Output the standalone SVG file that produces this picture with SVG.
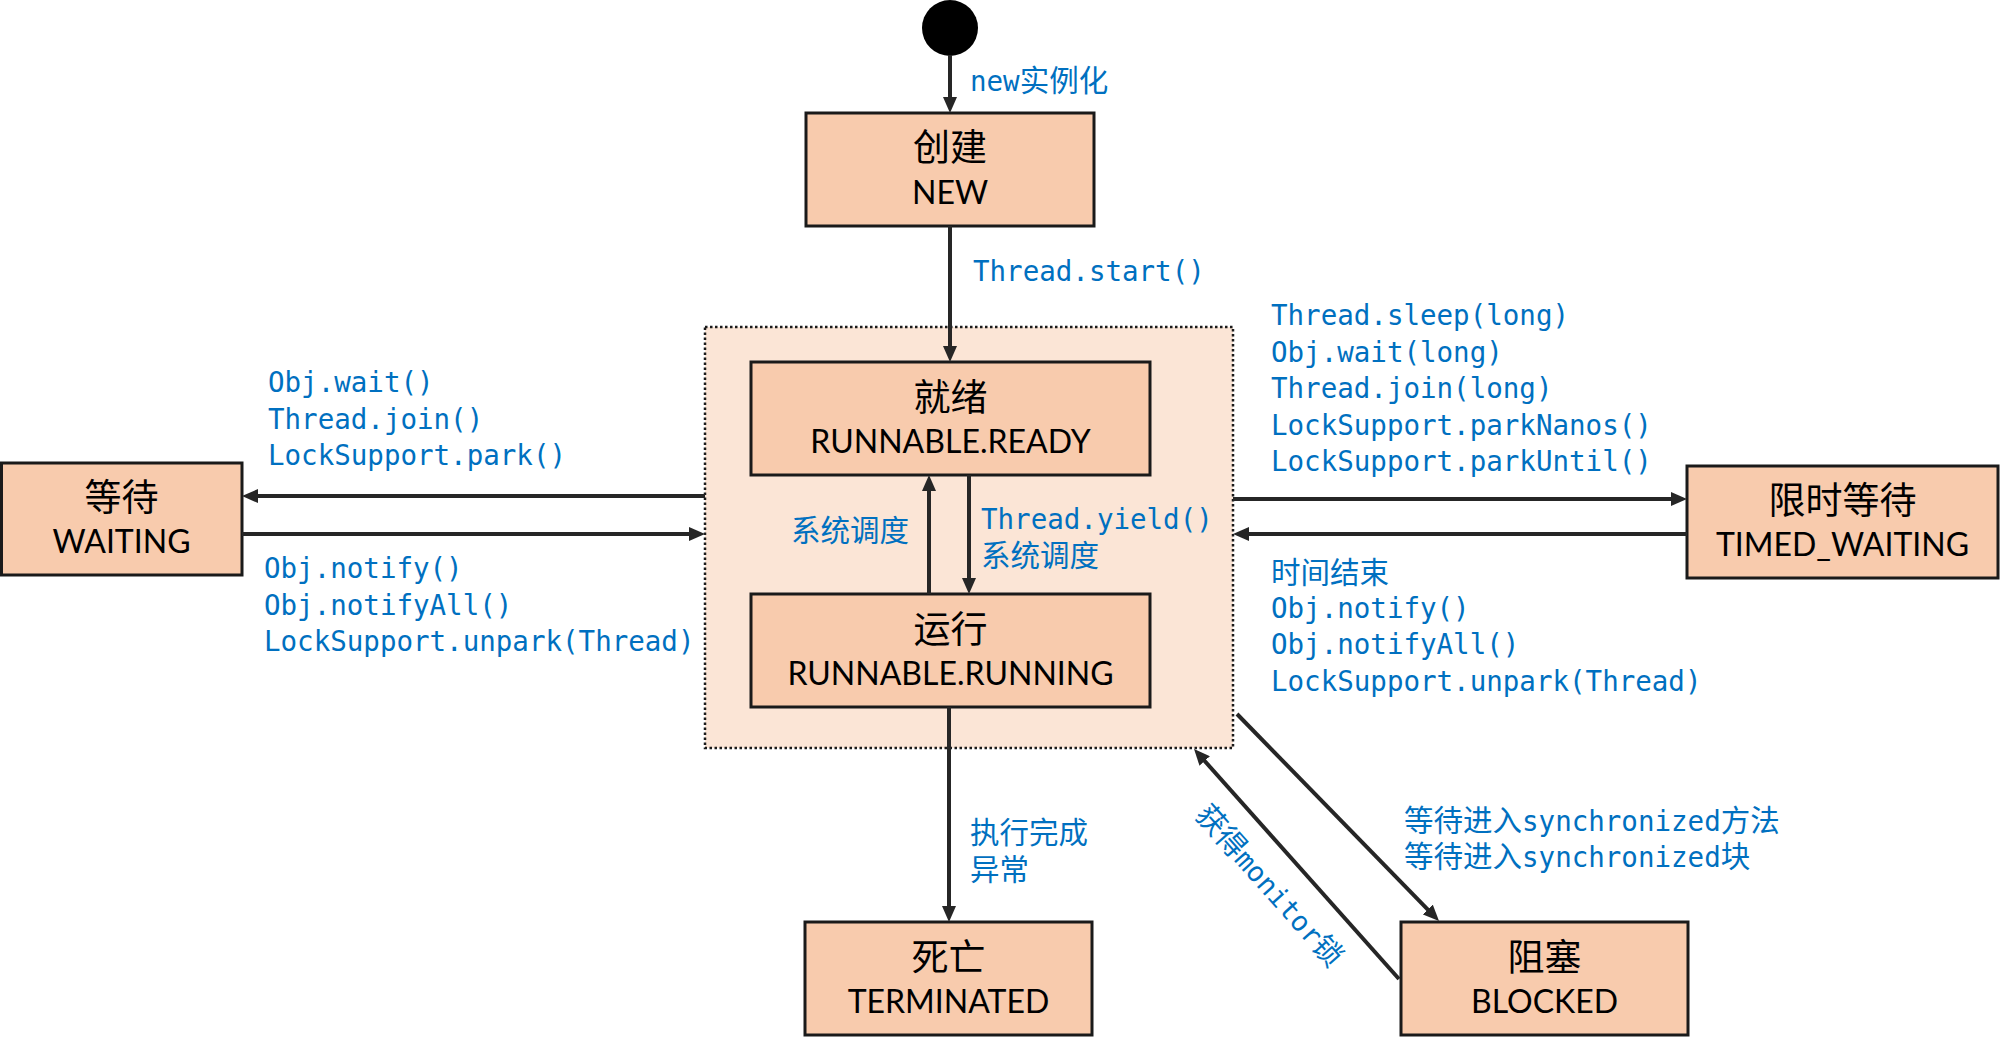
<svg xmlns="http://www.w3.org/2000/svg" width="2000" height="1047" viewBox="0 0 2000 1047">
<defs>
<style>
.box{fill:#F8CBAD;stroke:#1a1a1a;stroke-width:3}
.cn{font-family:"Noto Sans CJK SC",sans-serif;font-size:37px;fill:#000;text-anchor:middle}
.en{font-family:Lato,"Liberation Sans","Noto Sans CJK SC",sans-serif;font-size:32px;fill:#000;text-anchor:middle}
.lbl{font-family:"DejaVu Sans Mono","Liberation Mono","Noto Sans CJK SC",monospace;font-size:27.5px;fill:#0070C0}
.lcn{font-family:"Noto Sans CJK SC",sans-serif;font-size:29.5px;fill:#0070C0}
.cj{font-family:"Noto Sans CJK SC",sans-serif;font-size:29.5px}
.conn line{stroke:#262626;stroke-width:4;marker-end:url(#arr)}
</style>
<marker id="arr" markerUnits="userSpaceOnUse" markerWidth="16" markerHeight="14" viewBox="0 0 16 14" refX="6" refY="7" orient="auto">
<path d="M0,0 L16,7 L0,14 z" fill="#262626"/>
</marker>
</defs>
<rect width="2000" height="1047" fill="#fff"/>

<g id="runnable-container">
<rect x="705" y="327" width="528" height="421" fill="#FBE5D6" stroke="#1a1a1a" stroke-width="2.5" stroke-dasharray="2.5 2.5"/>
</g>

<g id="start">
<circle cx="950" cy="28" r="28" fill="#000"/>
</g>

<g id="new">
<rect class="box" x="806" y="113" width="288" height="113"/>
<text class="cn" x="950" y="161">创建</text>
<text class="en" x="950" y="204">NEW</text>
</g>

<g id="ready">
<rect class="box" x="751" y="362" width="399" height="113"/>
<text class="cn" x="950.5" y="411">就绪</text>
<text class="en" x="950.5" y="453">RUNNABLE.READY</text>
</g>

<g id="running">
<rect class="box" x="751" y="594" width="399" height="113"/>
<text class="cn" x="950.5" y="643">运行</text>
<text class="en" x="950.5" y="685">RUNNABLE.RUNNING</text>
</g>

<g id="waiting">
<rect class="box" x="1.5" y="463" width="240.5" height="112"/>
<text class="cn" x="121.5" y="511">等待</text>
<text class="en" x="121.5" y="553">WAITING</text>
</g>

<g id="timed-waiting">
<rect class="box" x="1687" y="466" width="311" height="112"/>
<text class="cn" x="1842.5" y="514">限时等待</text>
<text class="en" x="1842.5" y="556">TIMED_WAITING</text>
</g>

<g id="terminated">
<rect class="box" x="805" y="922" width="287" height="113"/>
<text class="cn" x="948.5" y="971">死亡</text>
<text class="en" x="948.5" y="1013">TERMINATED</text>
</g>

<g id="blocked">
<rect class="box" x="1401" y="922" width="287" height="113"/>
<text class="cn" x="1544.5" y="971">阻塞</text>
<text class="en" x="1544.5" y="1013">BLOCKED</text>
</g>

<g id="connectors" class="conn">
<line x1="950" y1="55" x2="950" y2="103"/>
<line x1="950" y1="226" x2="950" y2="352"/>
<line x1="929" y1="594" x2="929" y2="485"/>
<line x1="969" y1="475" x2="969" y2="584"/>
<line x1="949" y1="707" x2="949" y2="912"/>
<line x1="705" y1="496" x2="252" y2="496"/>
<line x1="242" y1="534" x2="695" y2="534"/>
<line x1="1233" y1="499" x2="1677" y2="499"/>
<line x1="1687" y1="534" x2="1243" y2="534"/>
<line x1="1237" y1="714" x2="1432" y2="913.8"/>
<line x1="1399" y1="979" x2="1200.7" y2="756.5"/>
</g>

<g id="labels">
<text class="lbl" x="970" y="91">new<tspan class="cj">实例化</tspan></text>
<text class="lbl" x="973" y="281">Thread.start()</text>

<text class="lbl" x="268" y="392">Obj.wait()</text>
<text class="lbl" x="268" y="428.5">Thread.join()</text>
<text class="lbl" x="268" y="465">LockSupport.park()</text>

<text class="lbl" x="264" y="578">Obj.notify()</text>
<text class="lbl" x="264" y="614.5">Obj.notifyAll()</text>
<text class="lbl" x="264" y="651">LockSupport.unpark(Thread)</text>

<text class="lcn" x="791" y="541">系统调度</text>
<text class="lbl" x="981" y="529">Thread.yield()</text>
<text class="lcn" x="981" y="566">系统调度</text>

<text class="lbl" x="1271" y="325">Thread.sleep(long)</text>
<text class="lbl" x="1271" y="361.5">Obj.wait(long)</text>
<text class="lbl" x="1271" y="398">Thread.join(long)</text>
<text class="lbl" x="1271" y="434.5">LockSupport.parkNanos()</text>
<text class="lbl" x="1271" y="471">LockSupport.parkUntil()</text>

<text class="lcn" x="1271" y="583">时间结束</text>
<text class="lbl" x="1271" y="617.5">Obj.notify()</text>
<text class="lbl" x="1271" y="654">Obj.notifyAll()</text>
<text class="lbl" x="1271" y="690.5">LockSupport.unpark(Thread)</text>

<text class="lcn" x="970" y="843">执行完成</text>
<text class="lcn" x="970" y="880">异常</text>

<text class="lbl" x="1404" y="831"><tspan class="cj">等待进入</tspan>synchronized<tspan class="cj">方法</tspan></text>
<text class="lbl" x="1404" y="867"><tspan class="cj">等待进入</tspan>synchronized<tspan class="cj">块</tspan></text>

<text class="lbl" transform="translate(1194,816) rotate(48.4)"><tspan class="cj">获得</tspan>monitor<tspan class="cj">锁</tspan></text>
</g>
</svg>
